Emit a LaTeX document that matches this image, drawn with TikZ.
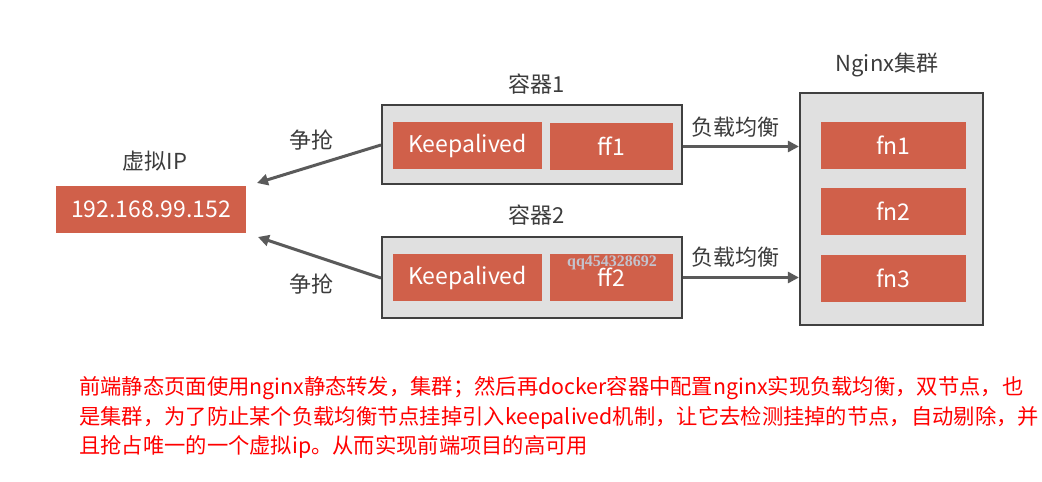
\documentclass[tikz,border=0pt]{standalone}
\usepackage{fontspec}
\setmainfont{Noto Sans CJK SC}
\newfontfamily\wmfont{Liberation Serif}
\usetikzlibrary{arrows.meta}
\definecolor{boxred}{RGB}{208,96,74}
\definecolor{panelgray}{RGB}{224,224,224}
\definecolor{edgegray}{RGB}{64,64,64}
\definecolor{arrowgray}{RGB}{90,90,90}
\definecolor{labelgray}{RGB}{60,60,60}
\definecolor{wmgray}{RGB}{195,195,205}
\tikzset{
  panel/.style={draw=edgegray, line width=2.2pt, fill=panelgray, inner sep=0pt},
  redbox/.style={fill=boxred, text=white, inner sep=0pt, font=\fontsize{23}{27}\selectfont},
  lbl/.style={text=labelgray, inner sep=0pt, font=\fontsize{22}{26}\selectfont},
  conn/.style={draw=arrowgray, line width=3pt, -{Triangle[length=11pt,width=11pt]}},
  note/.style={text=red, inner sep=0pt, anchor=west, font=\fontsize{21.3}{25}\selectfont},
}
\begin{document}
\begin{tikzpicture}[x=1pt,y=-1pt]
\useasboundingbox[fill=white] (0,0) rectangle (1042,482);

% containers
\node[panel, minimum width=300pt, minimum height=79pt] (c1) at (532,144.5) {};
\node[panel, minimum width=300pt, minimum height=81pt] (c2) at (532,277.5) {};
\node[redbox, minimum width=149pt, minimum height=47pt] (k1) at (467.5,145.5) {Keepalived};
\node[redbox, minimum width=123pt, minimum height=47pt] (f1) at (611.5,146.5) {ff1};
\node[redbox, minimum width=149pt, minimum height=47pt] (k2) at (467.5,277.5) {Keepalived};
\node[redbox, minimum width=123pt, minimum height=47pt] (f2) at (611.5,277.5) {ff2};
\node[text=wmgray, inner sep=0pt, font=\wmfont\bfseries\fontsize{16}{18}\selectfont] (wm) at (612,263) {qq454328692};

\node[lbl] (c1l) at (537,84) {容器1};
\node[lbl] (c2l) at (537,215) {容器2};

% virtual IP
\node[redbox, minimum width=190pt, minimum height=47pt] (vip) at (151,209.5) {192.168.99.152};
\node[lbl] (vipl) at (155,161) {虚拟IP};

% nginx cluster
\node[panel, minimum width=183pt, minimum height=232pt] (ng) at (891.5,209) {};
\node[redbox, minimum width=145pt, minimum height=47pt] (fn1) at (893.5,145.5) {fn1};
\node[redbox, minimum width=145pt, minimum height=47pt] (fn2) at (893.5,211.5) {fn2};
\node[redbox, minimum width=145pt, minimum height=47pt] (fn3) at (893.5,278) {fn3};
\node[lbl] (ngl) at (887,65) {Nginx集群};

% connectors
\coordinate (s1) at (381,145);
\coordinate (t1) at (257,183);
\coordinate (s2) at (381,278);
\coordinate (t2) at (258,237);
\draw[conn] (s1) -- (t1);
\draw[conn] (s2) -- (t2);
\node[lbl] (z1) at (311,140) {争抢};
\node[lbl] (z2) at (311,284) {争抢};

\draw[conn] (c1.east |- f1.center) -- (ng.west |- f1.center);
\draw[conn] (c2.east) -- (ng.west |- c2.east);
\node[lbl] (lb1) at (735,127) {负载均衡};
\node[lbl] (lb2) at (735,257) {负载均衡};

% note
\node[note] (n1) at (79,388) {前端静态页面使用nginx静态转发，集群；然后再docker容器中配置nginx实现负载均衡，双节点，也};
\node[note] (n2) at (79,418) {是集群，为了防止某个负载均衡节点挂掉引入keepalived机制，让它去检测挂掉的节点，自动剔除，并};
\node[note] (n3) at (79,447) {且抢占唯一的一个虚拟ip。从而实现前端项目的高可用};
\end{tikzpicture}
\end{document}
